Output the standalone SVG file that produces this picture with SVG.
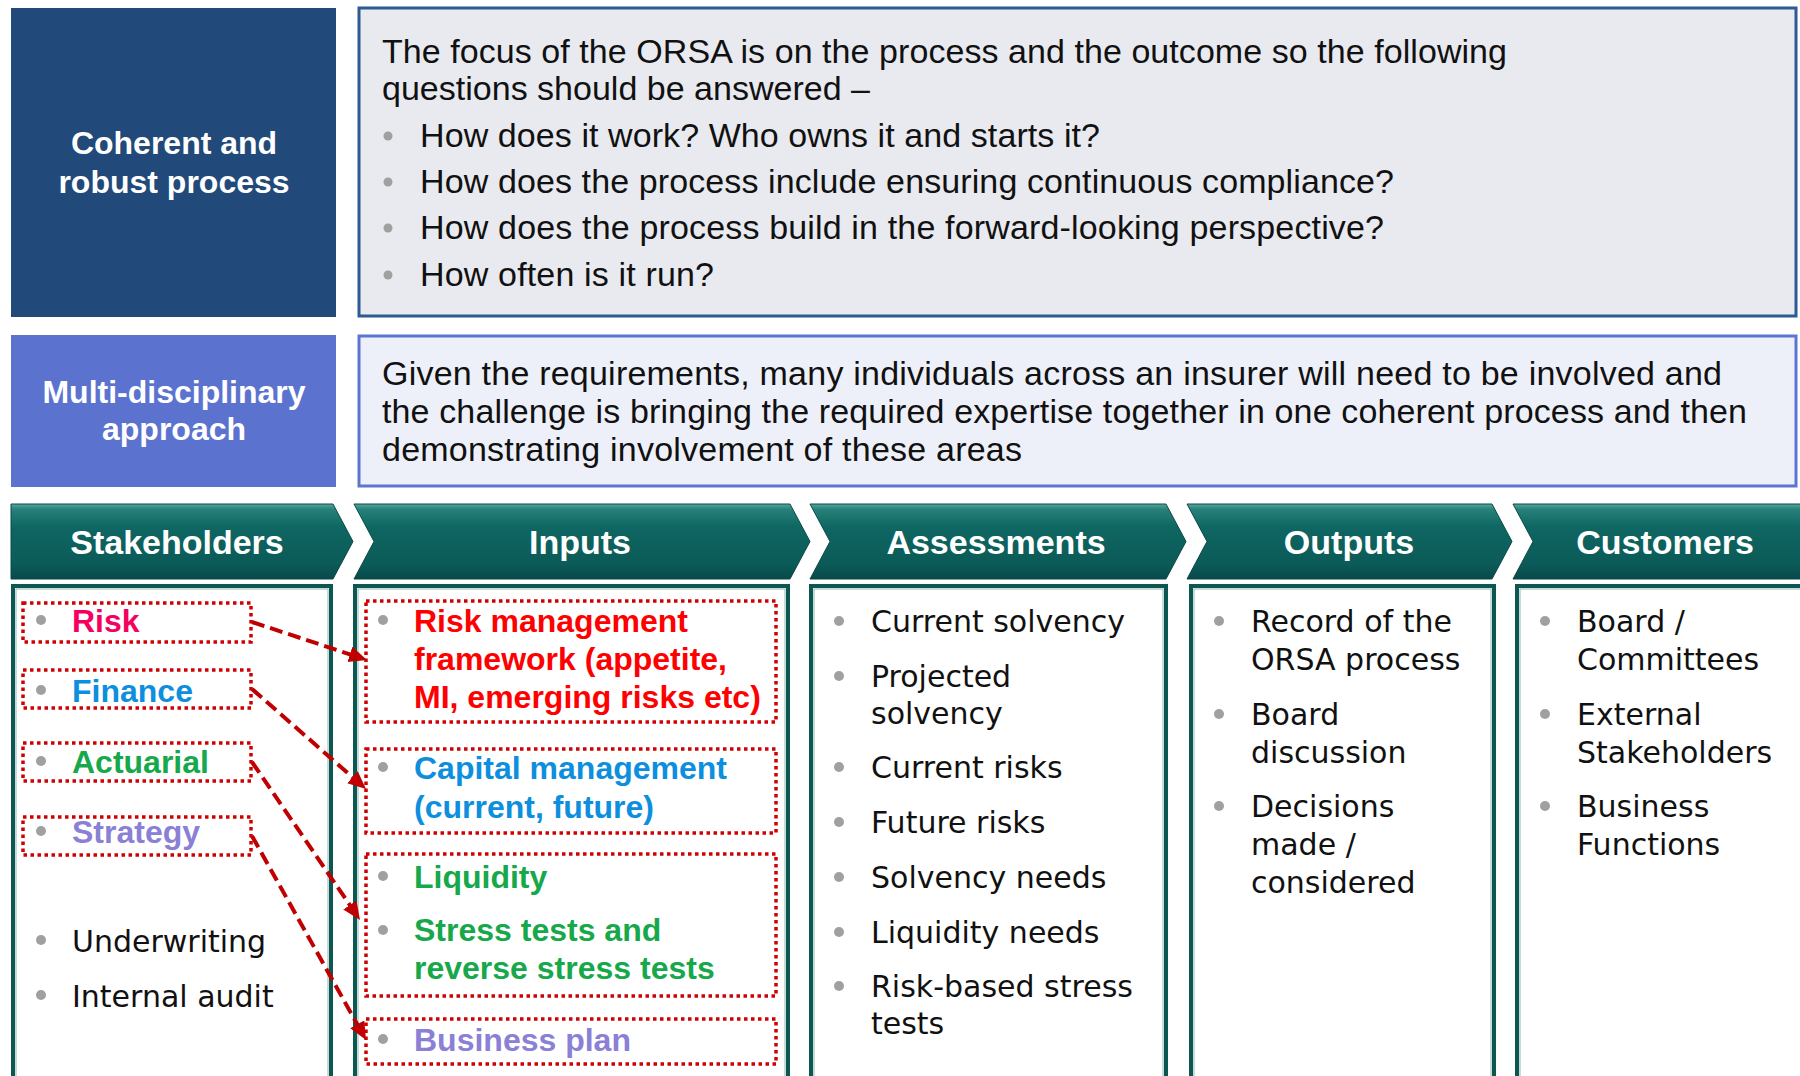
<svg xmlns="http://www.w3.org/2000/svg" width="1800" height="1076" viewBox="0 0 1800 1076">
  <defs>
    <linearGradient id="chevFill" x1="0" y1="0" x2="0" y2="1">
      <stop offset="0" stop-color="#5aa59d"/>
      <stop offset="0.07" stop-color="#27827a"/>
      <stop offset="0.3" stop-color="#0f6662"/>
      <stop offset="0.8" stop-color="#0b5b58"/>
      <stop offset="1" stop-color="#08494a"/>
    </linearGradient>
    <marker id="arrowHead" markerUnits="userSpaceOnUse" markerWidth="20" markerHeight="18" refX="4" refY="8" orient="auto">
      <path d="M0,0 L18,8 L0,16 Z" fill="#c00000"/>
    </marker>
    <style>
      .hdr-dark { fill: #21497a; }
      .hdr-light { fill: #5b73cf; }
      .box-title { font-family: "Liberation Sans", Arial, sans-serif; font-weight: bold; font-size: 32px; fill: #ffffff; text-anchor: middle; }
      .para { font-family: "Liberation Sans", Arial, sans-serif; font-size: 34px; fill: #111111; }
      .chev { fill: url(#chevFill); stroke: #0a4a48; stroke-width: 1; }
      .chev-label { font-family: "Liberation Sans", Arial, sans-serif; font-weight: bold; font-size: 34px; fill: #ffffff; text-anchor: middle; }
      .col { fill: #ffffff; stroke: #0d5753; stroke-width: 4; }
      .col-inner { fill: none; stroke: #8fb7b3; stroke-width: 1; }
      .item { font-family: "DejaVu Sans", Verdana, sans-serif; font-size: 30px; fill: #111111; }
      .tag { font-family: "Liberation Sans", Arial, sans-serif; font-weight: bold; font-size: 32px; }
      .bullet { fill: #a0a0a0; }
      .dotbox { fill: none; stroke: #d00000; stroke-width: 3.5; stroke-dasharray: 3.5 3.5; }
      .link { fill: none; stroke: #c00000; stroke-width: 4; stroke-dasharray: 13 6; marker-end: url(#arrowHead); }
    </style>
  </defs>

  <rect width="1800" height="1076" fill="#ffffff"/>

  <!-- Row 1: coherent and robust process -->
  <g id="coherent-process">
    <rect class="hdr-dark" x="11" y="8" width="325" height="309"/>
    <text class="box-title" x="174" y="154">Coherent and</text>
    <text class="box-title" x="174" y="193">robust process</text>
  </g>
  <g id="process-questions">
    <rect x="359" y="8" width="1437" height="308" fill="#e8eaf0" stroke="#2d5a92" stroke-width="3"/>
    <text class="para" x="382" y="63" textLength="1125">The focus of the ORSA is on the process and the outcome so the following</text>
    <text class="para" x="382" y="100" textLength="488">questions should be answered –</text>
    <circle class="bullet" cx="388" cy="136" r="4.5"/>
    <text class="para" x="420" y="147" textLength="680">How does it work? Who owns it and starts it?</text>
    <circle class="bullet" cx="388" cy="182" r="4.5"/>
    <text class="para" x="420" y="193" textLength="974">How does the process include ensuring continuous compliance?</text>
    <circle class="bullet" cx="388" cy="228" r="4.5"/>
    <text class="para" x="420" y="239" textLength="964">How does the process build in the forward-looking perspective?</text>
    <circle class="bullet" cx="388" cy="275" r="4.5"/>
    <text class="para" x="420" y="286" textLength="294">How often is it run?</text>
  </g>

  <!-- Row 2: multi-disciplinary approach -->
  <g id="multi-disciplinary">
    <rect class="hdr-light" x="11" y="335" width="325" height="152"/>
    <text class="box-title" x="174" y="403">Multi-disciplinary</text>
    <text class="box-title" x="174" y="440">approach</text>
  </g>
  <g id="expertise-note">
    <rect x="359" y="336" width="1437" height="150" fill="#eef0f9" stroke="#5d74d0" stroke-width="3"/>
    <text class="para" x="382" y="385" textLength="1340">Given the requirements, many individuals across an insurer will need to be involved and</text>
    <text class="para" x="382" y="423" textLength="1365">the challenge is bringing the required expertise together in one coherent process and then</text>
    <text class="para" x="382" y="461" textLength="640">demonstrating involvement of these areas</text>
  </g>

  <!-- Column bodies -->
  <g id="columns">
    <rect class="col" x="13" y="586" width="318" height="520"/>
    <rect class="col-inner" x="16" y="589" width="312" height="520"/>
    <rect class="col" x="355" y="586" width="433" height="520"/>
    <rect class="col-inner" x="358" y="589" width="427" height="520"/>
    <rect class="col" x="811" y="586" width="355" height="520"/>
    <rect class="col-inner" x="814" y="589" width="349" height="520"/>
    <rect class="col" x="1191" y="586" width="303" height="520"/>
    <rect class="col-inner" x="1194" y="589" width="297" height="520"/>
    <rect class="col" x="1517" y="586" width="300" height="520"/>
    <rect class="col-inner" x="1520" y="589" width="294" height="520"/>
  </g>

  <!-- Stage chevrons -->
  <g id="stage-stakeholders">
    <path class="chev" d="M11,504 L333,504 L353,541.5 L333,579 L11,579 Z"/>
    <text class="chev-label" x="177" y="554">Stakeholders</text>
  </g>
  <g id="stage-inputs">
    <path class="chev" d="M354,504 L790,504 L810,541.5 L790,579 L354,579 L374,541.5 Z"/>
    <text class="chev-label" x="580" y="554">Inputs</text>
  </g>
  <g id="stage-assessments">
    <path class="chev" d="M810,504 L1166,504 L1186,541.5 L1166,579 L810,579 L830,541.5 Z"/>
    <text class="chev-label" x="996" y="554">Assessments</text>
  </g>
  <g id="stage-outputs">
    <path class="chev" d="M1187,504 L1492,504 L1512,541.5 L1492,579 L1187,579 L1207,541.5 Z"/>
    <text class="chev-label" x="1349" y="554">Outputs</text>
  </g>
  <g id="stage-customers">
    <path class="chev" d="M1513,504 L1810,504 L1810,579 L1513,579 L1533,541.5 Z"/>
    <text class="chev-label" x="1665" y="554">Customers</text>
  </g>

  <!-- Stakeholders -->
  <g id="sh-risk">
    <rect class="dotbox" x="23" y="603" width="228" height="39"/>
    <circle class="bullet" cx="41" cy="620" r="5"/>
    <text class="tag" x="72" y="632" fill="#f5005f">Risk</text>
  </g>
  <g id="sh-finance">
    <rect class="dotbox" x="23" y="670" width="228" height="38"/>
    <circle class="bullet" cx="41" cy="690" r="5"/>
    <text class="tag" x="72" y="702" fill="#0d8fde">Finance</text>
  </g>
  <g id="sh-actuarial">
    <rect class="dotbox" x="23" y="743" width="228" height="38"/>
    <circle class="bullet" cx="41" cy="761" r="5"/>
    <text class="tag" x="72" y="773" fill="#16a84a">Actuarial</text>
  </g>
  <g id="sh-strategy">
    <rect class="dotbox" x="23" y="817" width="228" height="38"/>
    <circle class="bullet" cx="41" cy="831" r="5"/>
    <text class="tag" x="72" y="843" fill="#8a80d6">Strategy</text>
  </g>
  <g id="sh-other">
    <circle class="bullet" cx="41" cy="940" r="5"/>
    <text class="item" x="72" y="952">Underwriting</text>
    <circle class="bullet" cx="41" cy="995" r="5"/>
    <text class="item" x="72" y="1007">Internal audit</text>
  </g>

  <!-- Inputs -->
  <g id="in-risk-framework">
    <rect class="dotbox" x="366" y="601" width="410" height="121"/>
    <circle class="bullet" cx="383" cy="620" r="5"/>
    <text class="tag" x="414" y="632" fill="#ff0000">Risk management</text>
    <text class="tag" x="414" y="670" fill="#ff0000">framework (appetite,</text>
    <text class="tag" x="414" y="708" fill="#ff0000">MI, emerging risks etc)</text>
  </g>
  <g id="in-capital">
    <rect class="dotbox" x="366" y="749" width="410" height="84"/>
    <circle class="bullet" cx="383" cy="767" r="5"/>
    <text class="tag" x="414" y="779" fill="#0d8fde">Capital management</text>
    <text class="tag" x="414" y="818" fill="#0d8fde">(current, future)</text>
  </g>
  <g id="in-liquidity">
    <rect class="dotbox" x="366" y="854" width="410" height="142"/>
    <circle class="bullet" cx="383" cy="876" r="5"/>
    <text class="tag" x="414" y="888" fill="#16a84a">Liquidity</text>
    <circle class="bullet" cx="383" cy="930" r="5"/>
    <text class="tag" x="414" y="941" fill="#16a84a">Stress tests and</text>
    <text class="tag" x="414" y="979" fill="#16a84a">reverse stress tests</text>
  </g>
  <g id="in-business-plan">
    <rect class="dotbox" x="366" y="1019" width="410" height="45"/>
    <circle class="bullet" cx="383" cy="1039" r="5"/>
    <text class="tag" x="414" y="1051" fill="#8a80d6">Business plan</text>
  </g>

  <!-- Assessments -->
  <g id="assessments">
    <circle class="bullet" cx="839" cy="621" r="5"/>
    <text class="item" x="871" y="632">Current solvency</text>
    <circle class="bullet" cx="839" cy="676" r="5"/>
    <text class="item" x="871" y="687">Projected</text>
    <text class="item" x="871" y="724">solvency</text>
    <circle class="bullet" cx="839" cy="767" r="5"/>
    <text class="item" x="871" y="778">Current risks</text>
    <circle class="bullet" cx="839" cy="822" r="5"/>
    <text class="item" x="871" y="833">Future risks</text>
    <circle class="bullet" cx="839" cy="877" r="5"/>
    <text class="item" x="871" y="888">Solvency needs</text>
    <circle class="bullet" cx="839" cy="932" r="5"/>
    <text class="item" x="871" y="943">Liquidity needs</text>
    <circle class="bullet" cx="839" cy="986" r="5"/>
    <text class="item" x="871" y="997">Risk-based stress</text>
    <text class="item" x="871" y="1034">tests</text>
  </g>

  <!-- Outputs -->
  <g id="outputs">
    <circle class="bullet" cx="1219" cy="621" r="5"/>
    <text class="item" x="1251" y="632">Record of the</text>
    <text class="item" x="1251" y="670">ORSA process</text>
    <circle class="bullet" cx="1219" cy="714" r="5"/>
    <text class="item" x="1251" y="725">Board</text>
    <text class="item" x="1251" y="763">discussion</text>
    <circle class="bullet" cx="1219" cy="806" r="5"/>
    <text class="item" x="1251" y="817">Decisions</text>
    <text class="item" x="1251" y="855">made /</text>
    <text class="item" x="1251" y="893">considered</text>
  </g>

  <!-- Customers -->
  <g id="customers">
    <circle class="bullet" cx="1545" cy="621" r="5"/>
    <text class="item" x="1577" y="632">Board /</text>
    <text class="item" x="1577" y="670">Committees</text>
    <circle class="bullet" cx="1545" cy="714" r="5"/>
    <text class="item" x="1577" y="725">External</text>
    <text class="item" x="1577" y="763">Stakeholders</text>
    <circle class="bullet" cx="1545" cy="806" r="5"/>
    <text class="item" x="1577" y="817">Business</text>
    <text class="item" x="1577" y="855">Functions</text>
  </g>

  <!-- Stakeholder-to-input links -->
  <g id="connectors">
    <line class="link" x1="252" y1="622" x2="353.7" y2="655.6"/>
    <line class="link" x1="252" y1="689" x2="355.5" y2="779.8"/>
    <line class="link" x1="252" y1="762" x2="352.1" y2="908.4"/>
    <line class="link" x1="252" y1="836" x2="359.2" y2="1027.8"/>
  </g>
</svg>
